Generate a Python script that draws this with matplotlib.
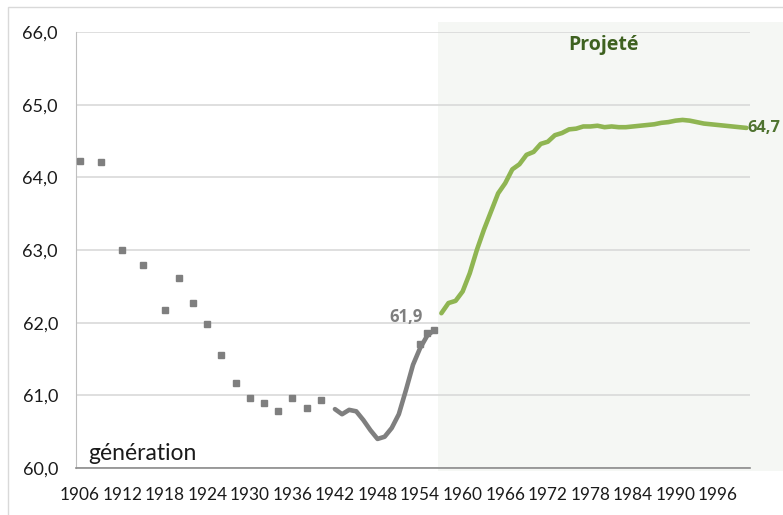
import matplotlib
matplotlib.use("Agg")
import matplotlib.pyplot as plt
from matplotlib.patches import Rectangle

plt.rcParams["font.family"] = ["Lato", "DejaVu Sans"]
BOLD_FAMILY = ["Open Sans", "DejaVu Sans"]

# Points isolés (générations anciennes)
dot_years = [1906, 1909, 1912, 1915, 1918, 1920, 1922, 1924, 1926, 1928,
             1930, 1932, 1934, 1936, 1938, 1940, 1954, 1955, 1956]
dot_vals = [64.22, 64.21, 63.00, 62.79, 62.17, 62.62, 62.27, 61.98, 61.56, 61.17,
            60.97, 60.90, 60.78, 60.97, 60.83, 60.93, 61.70, 61.86, 61.90]

# Série observée continue
obs_years = list(range(1942, 1957))
obs_vals = [60.81, 60.74, 60.80, 60.78, 60.66, 60.52, 60.40, 60.43, 60.55, 60.74,
            61.07, 61.42, 61.65, 61.82, 61.90]

# Série projetée
proj_years = list(range(1957, 2001))
proj_vals = [62.13, 62.27, 62.30, 62.43, 62.68, 63.00, 63.28, 63.53, 63.78, 63.92,
             64.11, 64.18, 64.31, 64.35, 64.46, 64.49, 64.58, 64.61, 64.66, 64.67,
             64.70, 64.70, 64.71, 64.69, 64.70, 64.69, 64.69, 64.70, 64.71, 64.72,
             64.73, 64.75, 64.76, 64.78, 64.79, 64.78, 64.76, 64.74, 64.73, 64.72,
             64.71, 64.70, 64.69, 64.68]

xticks = list(range(1906, 1997, 6))
yticks = [60, 61, 62, 63, 64, 65, 66]

GRAY = "#7f7f7f"
GREEN = "#8fb552"
DARK_GREEN = "#4f7330"

W, H = 783, 515
fig = plt.figure(figsize=(W / 100, H / 100), dpi=100)

# cadre du graphique
fig.patches.append(Rectangle((8 / W, -0.1), 1.2, 1 - 7 / H + 0.1,
                             transform=fig.transFigure, fill=False,
                             edgecolor="#d9d9d9", linewidth=1))

ax = fig.add_axes([76 / W, 1 - 468 / H, (750 - 76) / W, (468 - 32) / H])
ax.set_xlim(1905.5, 2000.5)
ax.set_ylim(60, 66)

# zone projetée
ax.add_patch(Rectangle((1956.5, -0.008), 60, 1.031,
                       transform=ax.get_xaxis_transform(), facecolor="#f5f7f4",
                       edgecolor="none", clip_on=False, zorder=0))

ax.set_yticks(yticks)
ax.set_yticklabels([f"{v:.1f}".replace(".", ",") for v in yticks])
ax.set_xticks(xticks)
ax.set_xticklabels([str(y) for y in xticks])
ax.grid(axis="y", color="#d9d9d9", linewidth=1.2, zorder=1)
ax.set_axisbelow(True)
ax.tick_params(length=0, colors="#1a1a1a")
ax.tick_params(axis="y", pad=13, labelsize=13)
ax.tick_params(axis="x", pad=14, labelsize=12.4)
for s in ["top", "right"]:
    ax.spines[s].set_visible(False)
ax.spines["left"].set_color("#bfbfbf")
ax.spines["bottom"].set_color("#8c8c8c")
ax.spines["bottom"].set_linewidth(1.2)
ax.patch.set_alpha(0)

ax.plot(obs_years, obs_vals, color=GRAY, linewidth=3.3, solid_capstyle="round",
        solid_joinstyle="round", zorder=3)
ax.plot(dot_years, dot_vals, linestyle="none", marker="s", markersize=4.8,
        color=GRAY, zorder=4)
ax.plot(proj_years, proj_vals, color=GREEN, linewidth=3.3, solid_capstyle="round",
        solid_joinstyle="round", zorder=3)

ax.text(obs_years[-1] - 1.6, obs_vals[-1] + 0.06, "61,9", family=BOLD_FAMILY,
        ha="right", va="bottom", fontsize=12, fontweight="bold", color=GRAY)
ax.text(proj_years[-1] + 0.1, proj_vals[-1], "64,7", family=BOLD_FAMILY,
        ha="left", va="center", fontsize=11.8, fontweight="bold", color=DARK_GREEN)
ax.text(1979.8, 65.82, "Projeté", family=BOLD_FAMILY, ha="center", va="center",
        fontsize=14, fontweight="bold", color="#3e6120")
ax.text(1907.2, 60.2, "génération", ha="left", va="center", fontsize=16.5,
        color="#1a1a1a")

fig.savefig("out.png", dpi=100)
